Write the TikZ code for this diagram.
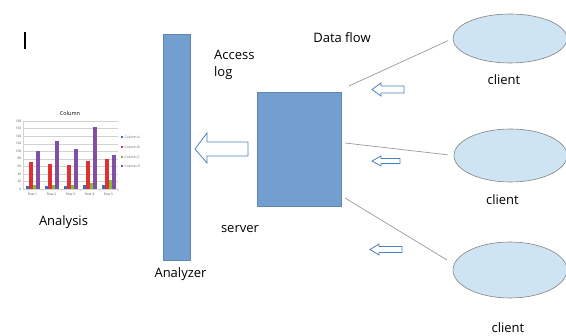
\documentclass[tikz,border=0pt]{standalone}
\usepackage{fontspec}
\setmainfont{Open Sans}
\usetikzlibrary{shapes.geometric}

\definecolor{barblue}{RGB}{114,159,207}
\definecolor{cloudfill}{RGB}{207,228,243}
\definecolor{cloudline}{RGB}{130,130,130}
\definecolor{flowblue}{RGB}{79,129,189}
\definecolor{colA}{RGB}{60,110,190}
\definecolor{colB}{RGB}{220,50,50}
\definecolor{colC}{RGB}{130,190,60}
\definecolor{colD}{RGB}{128,80,165}

\tikzset{
  label text/.style={font=\fontsize{13}{17}\selectfont, inner sep=0pt},
  block/.style={fill=barblue, draw=barblue!85!black, line width=0.3pt},
  client/.style={ellipse, fill=cloudfill, draw=cloudline, line width=0.6pt},
  link/.style={draw=gray!80, line width=0.7pt},
  flow/.style={draw=flowblue, line width=0.8pt, line join=miter, fill=white},
  tiny text/.style={font=\fontsize{3.3}{4}\selectfont, text=gray!70!black, inner sep=0.5pt},
  grid line/.style={draw=gray!35, line width=0.3pt}
}

\begin{document}
\begin{tikzpicture}[x=1pt,y=-1pt]
	\useasboundingbox (0,0) rectangle (566,336);
	% cursor
	\fill[black] (23.5,32) rectangle (25.5,49);
	% analyzer and server
	\draw[block] (163,34) rectangle (190,260);
	\node (anl) at (176.5,147) {};
	\draw[block] (257,92) rectangle (341,206);
	\node (srv) at (299,149) {};
	% clients
	\node[client, minimum width=114pt, minimum height=49pt] (c1) at (510,38.5) {};
	\node[client, minimum width=113pt, minimum height=53pt] (c2) at (510.5,155.5) {};
	\node[client, minimum width=114pt, minimum height=56pt] (c3) at (510,270) {};
	% connectors
	\coordinate (s1) at (349,86);
	\coordinate (s2) at (345,143);
	\coordinate (s3) at (345,198);
	\coordinate (e3) at (447,260);
	\draw[link, shorten >=5pt] (s1) -- (c1.west);
	\draw[link, shorten >=6pt] (s2) -- (c2.west);
	\draw[link] (s3) -- (e3);
	% arrows
	\draw[flow] (195,149) -- (207,133) -- (207,142) -- (248,142) -- (248,156) -- (207,156) -- (207,163) -- cycle;
	\draw[flow] (372,89.5) -- ++(9,-6.5) -- ++(0,3) -- ++(23,0) -- ++(0,7) -- ++(-23,0) -- ++(0,3) -- cycle;
	\draw[flow] (372,161) -- ++(9,-5) -- ++(0,2.5) -- ++(19,0) -- ++(0,5) -- ++(-19,0) -- ++(0,2.5) -- cycle;
	\draw[flow] (370,249.5) -- ++(9,-5.5) -- ++(0,2.5) -- ++(23,0) -- ++(0,6) -- ++(-23,0) -- ++(0,2.5) -- cycle;
	% labels
	\node[label text, anchor=base] at (342,43) {Data flow};
	\node[label text, anchor=north west, align=left] at (214,49.7) {Access\\log};
	\node[label text, anchor=base] at (240,233) {server};
	\node[label text, anchor=base] at (180.5,278) {Analyzer};
	\node[label text, anchor=base] at (63.5,226) {Analysis};
	\node[label text, anchor=base] at (504,85) {client};
	\node[label text, anchor=base] at (502.5,205) {client};
	\node[label text, anchor=base] at (508,333) {client};
	% chart
	\node[font=\fontsize{5.5}{6}\selectfont, inner sep=0pt] at (70,113) {Column};
	\begin{scope}[shift={(23,189)}, y=0.3778pt]
		\foreach \v in {0,20,...,180} {
			\draw[grid line] (0,\v) -- (95,\v);
			\node[tiny text, anchor=east] at (-1,\v) {\v};
		}
		\draw[grid line] (0,0) -- (0,180);
		\foreach \r/\a/\b/\c/\d in {1/8/72/10/100, 2/8/66/10/126, 3/9/63/10/107, 4/11/73/17/163, 5/11/80/24/91} {
			\pgfmathsetmacro{\xc}{9.5+19*(\r-1)}
			\fill[colA] (\xc-7,0) rectangle ++(3.5,\a);
			\fill[colB] (\xc-3.5,0) rectangle ++(3.5,\b);
			\fill[colC] (\xc,0) rectangle ++(3.5,\c);
			\fill[colD] (\xc+3.5,0) rectangle ++(3.5,\d);
			\draw[grid line] (\xc+9.5,0) -- ++(0,-5);
			\node[tiny text] at (\xc,-13) {Row \r};
		}
	\end{scope}
	% legend
	\foreach \k/\col/\yy in {A/colA/137, B/colB/147, C/colC/157, D/colD/166} {
		\fill[\col] (121,\yy-1.2) rectangle ++(2.4,2.4);
		\node[tiny text, anchor=west] at (124,\yy) {Column \k};
	}
\end{tikzpicture}
\end{document}
